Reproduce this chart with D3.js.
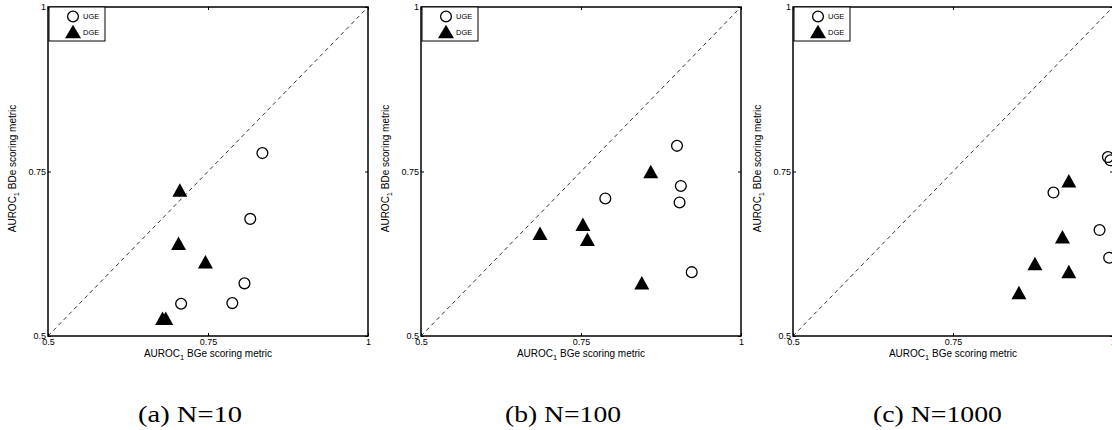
<!DOCTYPE html>
<html>
<head>
<meta charset="utf-8">
<script src="https://cdn.jsdelivr.net/npm/d3@7"></script>
<style>
  html, body { margin: 0; padding: 0; background: #fff; }
  svg { display: block; }
</style>
</head>
<body>
<svg id="fig" width="1112" height="430"></svg>
<script>
// Subfigure captions (one panel per sample size)
const captions = ["(a) N=10", "(b) N=100", "(c) N=1000"];

// Axis ticks shared by every panel
const tickValues = [0.5, 0.75, 1];
const tickLabels = ["0.5", "0.75", "1"];

// AUROC1 under the BGe metric (x) and the BDe metric (y), N=10
const ugeBGe10 = [0.835, 0.816, 0.807, 0.788, 0.708];
const ugeBDe10 = [0.778, 0.678, 0.580, 0.550, 0.549];
const dgeBGe10 = [0.706, 0.704, 0.746, 0.679, 0.684];
const dgeBDe10 = [0.722, 0.641, 0.613, 0.527, 0.527];

// N=100
const ugeBGe100 = [0.900, 0.906, 0.904, 0.788, 0.923];
const ugeBDe100 = [0.789, 0.728, 0.703, 0.709, 0.597];
const dgeBGe100 = [0.859, 0.753, 0.760, 0.686, 0.845];
const dgeBDe100 = [0.750, 0.670, 0.647, 0.656, 0.581];

// N=1000
const ugeBGe1000 = [0.907, 0.979, 0.994, 0.992, 0.996];
const ugeBDe1000 = [0.718, 0.661, 0.619, 0.772, 0.767];
const dgeBGe1000 = [0.931, 0.921, 0.878, 0.931, 0.853];
const dgeBDe1000 = [0.736, 0.651, 0.610, 0.598, 0.566];

const panelData = [
  { uge: [ugeBGe10, ugeBDe10],     dge: [dgeBGe10, dgeBDe10] },
  { uge: [ugeBGe100, ugeBDe100],   dge: [dgeBGe100, dgeBDe100] },
  { uge: [ugeBGe1000, ugeBDe1000], dge: [dgeBGe1000, dgeBDe1000] }
];

const seriesNames = ["UGE", "DGE"];

// Layout
const panelLeft = [48, 421, 793];
const captionLeft = [138, 505, 873];
const captionWidth = [104, 116, 129];
const panelTop = 7;
const W = 320, H = 329;
const font = "'Liberation Sans', Arial, Helvetica, sans-serif";

const x = d3.scaleLinear().domain([0.5, 1]).range([0, W]);
const y = d3.scaleLinear().domain([0.5, 1]).range([H, 0]);

const svg = d3.select("#fig");
svg.append("rect").attr("width", 1112).attr("height", 430).attr("fill", "#fff");

// Upward-pointing filled triangle centred on its bounding box
function trianglePath(w, h) {
  return `M0,${-h / 2}L${w / 2},${h / 2}L${-w / 2},${h / 2}Z`;
}
const triW = 15, triH = 13.5, circR = 5.4;

function zip(xs, ys) { return xs.map((v, i) => [v, ys[i]]); }

panelData.forEach((pd, pi) => {
  const g = svg.append("g")
    .attr("transform", `translate(${panelLeft[pi]},${panelTop})`);

  // inward ticks on all four sides
  const fmt = (d) => tickLabels[tickValues.indexOf(d)];
  const bottom = g.append("g").attr("transform", `translate(0,${H})`)
    .call(d3.axisBottom(x).tickValues(tickValues).tickFormat(fmt).tickSize(-3).tickPadding(4));
  const left = g.append("g")
    .call(d3.axisLeft(y).tickValues(tickValues).tickFormat(fmt).tickSize(-3).tickPadding(2));
  const top = g.append("g")
    .call(d3.axisTop(x).tickValues(tickValues).tickFormat("").tickSize(-3));
  const right = g.append("g").attr("transform", `translate(${W},0)`)
    .call(d3.axisRight(y).tickValues(tickValues).tickFormat("").tickSize(-3));

  [bottom, left, top, right].forEach(a => {
    a.select(".domain").remove();
    a.selectAll("line").attr("stroke", "#000").attr("stroke-width", 1);
    a.selectAll("text").attr("font-family", font).attr("font-size", 9).attr("fill", "#000");
  });
  bottom.selectAll("text").attr("dy", "0.5em");

  // diagonal reference line
  g.append("line")
    .attr("x1", x(0.5)).attr("y1", y(0.5))
    .attr("x2", x(1)).attr("y2", y(1))
    .attr("stroke", "#000").attr("stroke-width", 0.8)
    .attr("stroke-dasharray", "4,3.5");

  // undirected gene expression (UGE): open circles
  g.selectAll("circle.uge").data(zip(pd.uge[0], pd.uge[1])).enter()
    .append("circle").attr("class", "uge")
    .attr("cx", d => x(d[0])).attr("cy", d => y(d[1]))
    .attr("r", circR)
    .attr("fill", "none").attr("stroke", "#000").attr("stroke-width", 1.3);

  // directed gene expression (DGE): filled triangles
  g.selectAll("path.dge").data(zip(pd.dge[0], pd.dge[1])).enter()
    .append("path").attr("class", "dge")
    .attr("transform", d => `translate(${x(d[0])},${y(d[1])})`)
    .attr("d", trianglePath(triW, triH))
    .attr("fill", "#000");

  // axes frame
  g.append("rect").attr("x", 0).attr("y", 0).attr("width", W).attr("height", H)
    .attr("fill", "none").attr("stroke", "#000").attr("stroke-width", 1.5);

  // legend
  const lg = g.append("g").attr("transform", "translate(1,0)");
  lg.append("rect").attr("x", 0).attr("y", 0).attr("width", 56).attr("height", 34)
    .attr("fill", "#fff").attr("stroke", "#000").attr("stroke-width", 1);
  lg.append("circle").attr("cx", 24).attr("cy", 9.5).attr("r", circR)
    .attr("fill", "none").attr("stroke", "#000").attr("stroke-width", 1.3);
  lg.append("path").attr("transform", "translate(24,24.5)")
    .attr("d", trianglePath(triW + 1, triH)).attr("fill", "#000");
  lg.selectAll("text.leg").data(seriesNames).enter()
    .append("text").attr("class", "leg")
    .attr("x", 34).attr("y", (d, i) => 9.5 + i * 15.5)
    .attr("dy", "0.35em")
    .attr("font-family", font).attr("font-size", 7.5)
    .text(d => d);

  // x axis label
  const xl = g.append("text")
    .attr("x", W / 2).attr("y", H + 21)
    .attr("text-anchor", "middle")
    .attr("font-family", font).attr("font-size", 10);
  xl.append("tspan").text("AUROC");
  xl.append("tspan").attr("font-size", 7.5).attr("dy", 3).text("1");
  xl.append("tspan").attr("dy", -3).text(" BGe scoring metric");

  // y axis label
  const yl = g.append("text")
    .attr("transform", `translate(-32,${H / 2 - 3}) rotate(-90)`)
    .attr("text-anchor", "middle")
    .attr("font-family", font).attr("font-size", 10);
  yl.append("tspan").text("AUROC");
  yl.append("tspan").attr("font-size", 7.5).attr("dy", 3).text("1");
  yl.append("tspan").attr("dy", -3).text(" BDe scoring metric");

  // subfigure caption
  svg.append("text")
    .attr("x", captionLeft[pi]).attr("y", 422)
    .attr("text-anchor", "start")
    .attr("font-family", "'Liberation Serif', 'Times New Roman', serif")
    .attr("font-size", 23)
    .attr("textLength", captionWidth[pi])
    .attr("lengthAdjust", "spacingAndGlyphs")
    .text(captions[pi]);
});
</script>
</body>
</html>
